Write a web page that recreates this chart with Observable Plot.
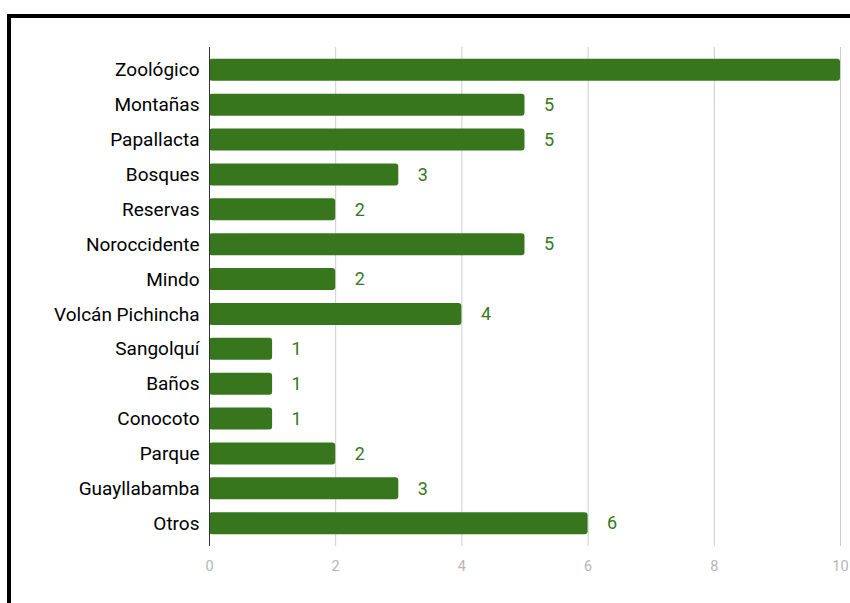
<!DOCTYPE html>
<html><head><meta charset="utf-8">
<script src="https://cdn.jsdelivr.net/npm/d3@7"></script>
<script src="https://cdn.jsdelivr.net/npm/@observablehq/plot@0.6"></script>
<style>
html,body{margin:0;padding:0;background:#fff;overflow:hidden;width:850px;height:603px}
#frame{position:absolute;left:7px;top:14px;width:900px;height:700px;border-top:4px solid #000;border-left:4px solid #000;box-sizing:border-box}
#chart{position:absolute;left:0;top:0}
</style></head><body>
<div id="frame"></div>
<div id="chart"></div>
<script>
const categories = ["Zoológico","Montañas","Papallacta","Bosques","Reservas","Noroccidente","Mindo","Volcán Pichincha","Sangolquí","Baños","Conocoto","Parque","Guayllabamba","Otros"];
const values = [10,5,5,3,2,5,2,4,1,1,1,2,3,6];
const xTicks = [0,2,4,6,8,10];

const data = categories.map((c,i)=>({cat:c, val:values[i]}));
const green = "#38761d";
const xMax = xTicks[xTicks.length-1];

const plot = Plot.plot({
  width: 850, height: 603,
  marginLeft: 209, marginRight: 10, marginTop: 47, marginBottom: 57,
  style: {fontFamily: "Roboto", background: "transparent"},
  x: {domain: [0,xMax], ticks: xTicks, label: null},
  y: {domain: categories, paddingInner: 0.37, paddingOuter: 0.34, round: false, label: null},
  marks: [
    Plot.gridX(xTicks.filter(d=>d>0), {stroke: "#cccccc", strokeOpacity: 1, strokeWidth: 1}),
    Plot.barX(data, {x: "val", y: "cat", fill: green, rx: 3}),
    Plot.ruleX([0], {stroke: "#333", strokeWidth: 1}),
    Plot.text(data.filter(d=>d.val < xMax), {x: "val", y: "cat", text: d=>String(d.val), dx: 19, textAnchor: "start", fill: green, fontSize: 18}),
    Plot.axisX({ticks: xTicks, tickSize: 0, tickPadding: 14, fontSize: 14.5, color: "#b7b7b7", label: null}),
    Plot.axisY({tickSize: 0, tickPadding: 10, fontSize: 19, color: "#000", label: null})
  ]
});
document.getElementById("chart").appendChild(plot);
</script>
</body></html>
